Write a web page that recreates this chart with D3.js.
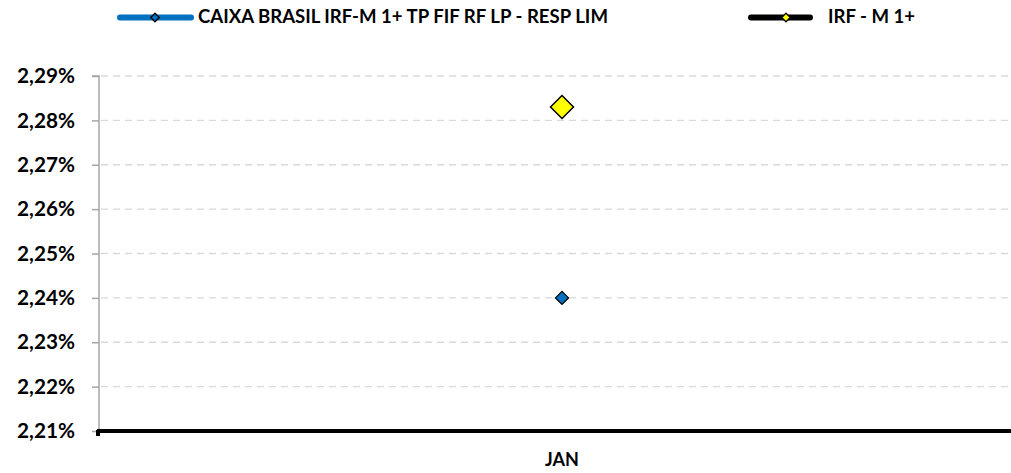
<!DOCTYPE html>
<html><head><meta charset="utf-8">
<script src="https://cdn.jsdelivr.net/npm/d3@7"></script>
<style>body{margin:0;background:#fff}svg{display:block}text{font-family:Lato,"Open Sans",sans-serif;font-weight:bold;fill:#000}</style>
</head><body><svg id="c" width="1011" height="473"></svg>
<script>
const categories = ["JAN"];
const seriesNames = ["CAIXA BRASIL IRF-M 1+ TP FIF RF LP - RESP LIM", "IRF - M 1+"];
const fundValues = [2.24];
const indexValues = [2.283];
const yTicks = [2.21, 2.22, 2.23, 2.24, 2.25, 2.26, 2.27, 2.28, 2.29];
const tickLabels = ["2,21%","2,22%","2,23%","2,24%","2,25%","2,26%","2,27%","2,28%","2,29%"];

(function(){
const svg = d3.select("#c");
const pL = 99, pR = 1025, pT = 76, pB = 431;
const x = d3.scaleBand().domain(categories).range([pL, pR]);
const y = d3.scaleLinear().domain([2.21, 2.29]).range([pB, pT]);
const FONT = 'Lato, "Open Sans", sans-serif';

function fit(sel, wanted) {
  sel.style("font-size", "20px");
  const w = sel.node().getComputedTextLength();
  return 20 * wanted / w;
}

svg.append("g").selectAll("line").data(yTicks.slice(1)).join("line")
  .attr("x1", pL + 2).attr("x2", 1011)
  .attr("y1", d => y(d)).attr("y2", d => y(d))
  .attr("stroke", "#d9d9d9").attr("stroke-width", 1.3).attr("stroke-dasharray", "7,5");

const yAxis = d3.axisLeft(y).tickValues(yTicks).tickSize(7).tickPadding(17)
  .tickFormat((d, i) => tickLabels[i]);
const ga = svg.append("g").attr("transform", `translate(${pL},0)`).call(yAxis);
ga.select(".domain").attr("stroke", "#a6a6a6").attr("stroke-width", 1.5).attr("d", `M-7,${pT}H0V${pB}`);
ga.selectAll(".tick line").attr("stroke", "#a6a6a6").attr("stroke-width", 1.5);
const tt = ga.selectAll(".tick text").style("font-family", FONT).style("font-weight", "bold").attr("fill", "#000");
const tfs = fit(d3.select(tt.nodes()[tt.size()-1]), 58);
tt.style("font-size", tfs + "px");

const xAxis = d3.axisBottom(x).tickSize(0).tickPadding(22);
const gx = svg.append("g").attr("transform", `translate(0,${pB})`).call(xAxis);
gx.select(".domain").attr("stroke", "#000").attr("stroke-width", 4).attr("d", `M${pL-2},0H1011`);
const xt = gx.selectAll(".tick text").style("font-family", FONT).style("font-weight", "bold").attr("fill", "#000");
xt.style("font-size", Math.min(18, fit(xt, 40)) + "px");
svg.append("rect").attr("x", pL - 3).attr("y", pB - 1).attr("width", 4).attr("height", 6).attr("fill", "#000");

const diamond = r => `M0,${-r}L${r},0L0,${r}L${-r},0Z`;
svg.append("g").selectAll("path").data(fundValues).join("path")
  .attr("d", diamond(6.5))
  .attr("transform", (d, i) => `translate(${x(categories[i]) + x.bandwidth()/2},${y(d)})`)
  .attr("fill", "#0070c0").attr("stroke", "#000").attr("stroke-width", 1.3);
svg.append("g").selectAll("path").data(indexValues).join("path")
  .attr("d", diamond(11.5))
  .attr("transform", (d, i) => `translate(${x(categories[i]) + x.bandwidth()/2},${y(d)})`)
  .attr("fill", "#ffff00").attr("stroke", "#000").attr("stroke-width", 1.5);

const leg = [
  {name: seriesNames[0], line: "#0070c0", fill: "#0070c0", x1: 120, x2: 191, mx: 155, tx: 198},
  {name: seriesNames[1], line: "#000", fill: "#ffff00", x1: 751, x2: 810, mx: 786, tx: 828}
];
const lg = svg.append("g");
const texts = [];
leg.forEach(l => {
  lg.append("line").attr("x1", l.x1).attr("x2", l.x2).attr("y1", 17.5).attr("y2", 17.5)
    .attr("stroke", l.line).attr("stroke-width", 6).attr("stroke-linecap", "round");
  lg.append("path").attr("d", diamond(4.3)).attr("transform", `translate(${l.mx},17.5)`)
    .attr("fill", l.fill).attr("stroke", "#000").attr("stroke-width", 1.3);
  texts.push(lg.append("text").attr("x", l.tx).attr("y", 23).style("font-family", FONT).text(l.name));
});
const lfs = fit(texts[0], 410);
texts.forEach(t => t.style("font-size", lfs + "px"));
})();
</script></body></html>
